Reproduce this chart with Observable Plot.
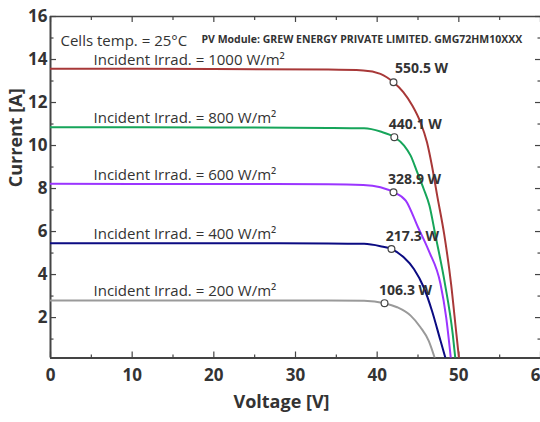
<!DOCTYPE html>
<html><head><meta charset="utf-8">
<script src="https://cdn.jsdelivr.net/npm/d3@7"></script>
<script src="https://cdn.jsdelivr.net/npm/@observablehq/plot@0.6"></script>
<style>
body{margin:0;background:#fff;}
#chart svg{font-family:"Open Sans",sans-serif;}
</style></head><body><div id="chart"></div>
<script>
// Series
const irradiance = [1000, 800, 600, 400, 200];
const seriesColors = ["#a83838", "#16a55a", "#9b35ff", "#0b0b82", "#9a9a9a"];

const voltage1000 = [0, 20, 34, 38.3, 40.4, 42.0, 43.2, 44.3, 45.3, 46.1, 46.7, 47.35, 48.2, 49.05, 49.7, 50.05];
const current1000 = [13.57, 13.56, 13.53, 13.49, 13.33, 12.94, 12.48, 11.86, 11.08, 10.15, 9.07, 7.67, 5.89, 3.57, 1.24, 0];

const voltage800 = [0, 20, 34, 38.4, 40.4, 42.1, 43.3, 44.1, 44.9, 45.7, 46.4, 47.1, 48.3, 49.25, 49.6];
const current800 = [10.85, 10.84, 10.82, 10.8, 10.65, 10.39, 10.0, 9.53, 8.76, 7.98, 7.21, 5.89, 3.57, 1.24, 0];

const voltage600 = [0, 20, 34, 38.3, 40.4, 42.0, 43.5, 45.0, 46.3, 47.75, 48.45, 49.05];
const current600 = [8.22, 8.21, 8.2, 8.17, 8.06, 7.83, 7.44, 6.2, 5.12, 3.57, 2.01, 0];

const voltage400 = [0, 20, 34, 38.4, 40.4, 41.75, 43.25, 44.5, 45.7, 46.7, 47.75, 48.45];
const current400 = [5.46, 5.46, 5.45, 5.43, 5.32, 5.19, 4.8, 4.26, 3.41, 2.33, 0.93, 0];

const voltage200 = [0, 20, 34, 38.4, 40.9, 42.45, 44.1, 45.3, 46.3, 47.15];
const current200 = [2.79, 2.79, 2.79, 2.78, 2.67, 2.48, 2.09, 1.55, 0.93, 0];

// Maximum power points
const mppPower = [550.5, 440.1, 328.9, 217.3, 106.3];
const mppVoltage = [42.0, 42.1, 42.0, 41.75, 40.9];
const mppCurrent = [12.94, 10.39, 7.83, 5.19, 2.67];
const shortCircuitCurrent = [13.57, 10.85, 8.22, 5.46, 2.79];

// Axis ticks
const xTicks = [0, 10, 20, 30, 40, 50, 60];
const xMinorTicks = [5, 15, 25, 35, 45, 55];
const yTicks = [2, 4, 6, 8, 10, 12, 14, 16];
const yMinorTicks = [1, 3, 5, 7, 9, 11, 13, 15];

const curveV = [voltage1000, voltage800, voltage600, voltage400, voltage200];
const curveI = [current1000, current800, current600, current400, current200];
const rows = irradiance.flatMap((g, i) => curveV[i].map((v, j) => ({g, V: v, I: curveI[i][j]})));
const mpp = irradiance.map((g, i) => ({g, V: mppVoltage[i], I: mppCurrent[i], P: mppPower[i]}));
const isc = irradiance.map((g, i) => ({g, I: shortCircuitCurrent[i]}));

const ink = "#333";
const axisInk = "#444";
const yDomain = [0.12, 16];

const plot = Plot.plot({
  width: 540, height: 422,
  marginLeft: 50, marginRight: 0, marginTop: 16, marginBottom: 64.5,
  style: {fontFamily: "'Open Sans', sans-serif", color: ink, background: "white"},
  x: {domain: [0, 60]},
  y: {domain: yDomain},
  color: {domain: irradiance, range: seriesColors},
  marks: [
    // frame (left, top, bottom)
    Plot.ruleX([0], {stroke: axisInk, strokeWidth: 2}),
    Plot.ruleY([yDomain[0]], {stroke: axisInk, strokeWidth: 2}),
    Plot.ruleY([16], {stroke: axisInk, strokeWidth: 1.6}),
    // axes with inward ticks
    Plot.axisX(xTicks, {anchor: "bottom", tickSize: -6, tickPadding: 17, fontSize: 17, fontWeight: "bold", fill: ink, stroke: axisInk, strokeWidth: 1.2, label: null}),
    Plot.axisX(xMinorTicks, {anchor: "bottom", tickSize: -3, fill: "none", stroke: axisInk, strokeWidth: 1.2, label: null}),
    Plot.axisX(xTicks, {anchor: "top", tickSize: -5, fill: "none", stroke: axisInk, strokeWidth: 1.2, label: null}),
    Plot.axisX(xMinorTicks, {anchor: "top", tickSize: -3, fill: "none", stroke: axisInk, strokeWidth: 1.2, label: null}),
    Plot.axisY(yTicks, {anchor: "left", tickSize: -6, tickPadding: 9, fontSize: 17, fontWeight: "bold", fill: ink, stroke: axisInk, strokeWidth: 1.2, label: null}),
    Plot.axisY(yMinorTicks, {anchor: "left", tickSize: -3.5, fill: "none", stroke: axisInk, strokeWidth: 1.2, label: null}),
    Plot.axisY(yTicks, {anchor: "right", tickSize: -6, fill: "none", stroke: axisInk, strokeWidth: 1.2, label: null}),
    Plot.axisY(yMinorTicks, {anchor: "right", tickSize: -3.5, fill: "none", stroke: axisInk, strokeWidth: 1.2, label: null}),
    // axis titles
    Plot.text(["Current [A]"], {frameAnchor: "left", dx: -34, rotate: -90, fontSize: 18, fontWeight: "bold", fill: ink}),
    Plot.text(["Voltage [V]"], {frameAnchor: "bottom", dx: -14, dy: 49.5, fontSize: 18, fontWeight: "bold", fill: ink}),
    // curves
    Plot.line(rows, {x: "V", y: "I", z: "g", stroke: "g", strokeWidth: 2, curve: "monotone-x", clip: true}),
    Plot.dot(mpp, {x: "V", y: "I", r: 3.4, fill: "white", stroke: "#444", strokeWidth: 1.2}),
    // power labels
    Plot.text(mpp.slice(0, 1), {x: "V", y: "I", text: d => `${d.P} W`, dx: 28, dy: -13.5, fontSize: 14, fontWeight: "bold", fill: ink}),
    Plot.text(mpp.slice(1), {x: "V", y: "I", text: d => `${d.P} W`, dx: 21, dy: -12.5, fontSize: 14, fontWeight: "bold", fill: ink}),
    // irradiance labels
    Plot.text(isc, {frameAnchor: "left", y: "I", dx: 43, dy: -9, textAnchor: "start", text: d => `Incident Irrad. = ${d.g} W/m²`, fontSize: 15, fill: ink}),
    // header annotations
    Plot.text(["Cells temp. = 25°C"], {frameAnchor: "top-left", dx: 10, dy: 19, textAnchor: "start", fontSize: 15, fill: ink}),
    Plot.text(["PV Module: GREW ENERGY PRIVATE LIMITED. GMG72HM10XXX"], {frameAnchor: "top-left", dx: 151, dy: 19, textAnchor: "start", fontSize: 10.5, fontWeight: "bold", fill: ink})
  ]
});
document.getElementById("chart").append(plot);
</script></body></html>
